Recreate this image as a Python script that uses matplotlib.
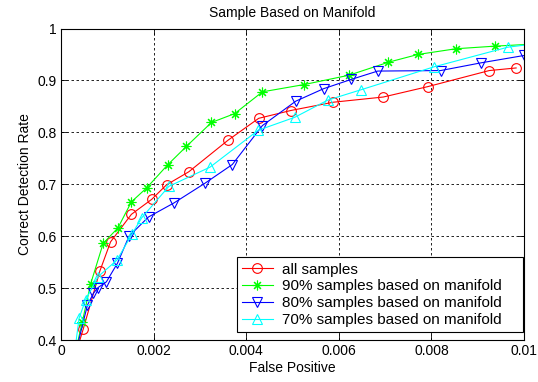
import matplotlib
matplotlib.use('Agg')
import matplotlib.pyplot as plt

## data
all_x = [0.00034, 0.00048, 0.00084, 0.00107, 0.00152, 0.00196, 0.00228, 0.00276, 0.00361,
         0.00427, 0.00496, 0.00588, 0.00696, 0.00792, 0.00925, 0.00983]
all_y = [0.38, 0.421, 0.533, 0.589, 0.642, 0.671, 0.699, 0.724, 0.785,
         0.827, 0.842, 0.858, 0.868, 0.888, 0.919, 0.924]

s90_x = [0.00032, 0.00046, 0.00064, 0.00091, 0.00123, 0.00152, 0.00185, 0.00231, 0.00271,
         0.00325, 0.00375, 0.00435, 0.00525, 0.00622, 0.00707, 0.00771, 0.00853, 0.00937, 0.0102]
s90_y = [0.38, 0.435, 0.508, 0.586, 0.616, 0.666, 0.693, 0.738, 0.773,
         0.819, 0.836, 0.878, 0.892, 0.91, 0.935, 0.95, 0.961, 0.966, 0.97]

s80_x = [0.00033, 0.00057, 0.00070, 0.00080, 0.00098, 0.00122, 0.00147, 0.00189, 0.00244,
         0.00311, 0.0037, 0.00435, 0.00507, 0.00567, 0.00627, 0.00684, 0.0082, 0.00908, 0.01]
s80_y = [0.38, 0.467, 0.49, 0.501, 0.512, 0.548, 0.6, 0.637, 0.664,
         0.702, 0.738, 0.813, 0.86, 0.884, 0.902, 0.918, 0.919, 0.934, 0.948]

s70_x = [0.00030, 0.00039, 0.00053, 0.0008, 0.00121, 0.00154, 0.00174, 0.00233, 0.00322,
         0.00426, 0.00505, 0.00576, 0.00648, 0.00805, 0.00965, 0.0102]
s70_y = [0.38, 0.442, 0.477, 0.522, 0.554, 0.605, 0.635, 0.696, 0.733,
         0.804, 0.829, 0.862, 0.882, 0.926, 0.964, 0.97]

labels = ['all samples', '90% samples based on manifold',
          '80% samples based on manifold', '70% samples based on manifold']

x_ticks = [0, 0.002, 0.004, 0.006, 0.008, 0.01]
x_tick_labels = ['0', '0.002', '0.004', '0.006', '0.008', '0.01']
y_ticks = [0.4, 0.5, 0.6, 0.7, 0.8, 0.9, 1.0]
y_tick_labels = ['0.4', '0.5', '0.6', '0.7', '0.8', '0.9', '1']


def main():
    plt.rcParams['font.family'] = ['Liberation Sans', 'DejaVu Sans']
    plt.rcParams['font.size'] = 10

    fig = plt.figure(figsize=(5.38, 3.82), dpi=100)
    ax = fig.add_axes([61 / 538, 1 - 340 / 382, 463 / 538, 311.5 / 382])

    # matlab style: open markers, asterisk for the 90% curve
    series = [(all_x, all_y, '#ff0000', 'o', 7),
              (s90_x, s90_y, '#00ff00', (8, 2, 0), 7),
              (s80_x, s80_y, '#0000ff', 'v', 7),
              (s70_x, s70_y, '#00ffff', '^', 7)]
    for (xs, ys, col, mk, ms), lab in zip(series, labels):
        ax.plot(xs, ys, color=col, marker=mk, markersize=ms,
                markerfacecolor='none', markeredgewidth=0.8,
                linewidth=0.8, label=lab)

    ax.set_xlim(0, 0.01)
    ax.set_ylim(0.4, 1.0)
    ax.set_xticks(x_ticks)
    ax.set_xticklabels(x_tick_labels)
    ax.set_yticks(y_ticks)
    ax.set_yticklabels(y_tick_labels)
    ax.tick_params(direction='in', length=4, width=0.6, top=True, right=True, pad=3)
    ax.grid(True, color='black', linestyle=(0, (3, 3)), linewidth=0.6)
    for sp in ax.spines.values():
        sp.set_linewidth(0.8)

    ax.set_title('Sample Based on Manifold', fontsize=10, pad=8)
    ax.set_xlabel('False Positive', labelpad=2)
    ax.set_ylabel('Correct Detection Rate', labelpad=4)

    # legend box stretched to the width it has in the reference
    leg = ax.legend(loc='lower left', bbox_to_anchor=(0.3795, 0.025, 0.6177, 0.248),
                    mode='expand', borderaxespad=0,
                    fancybox=False, framealpha=1, edgecolor='black', handlelength=2,
                    labelspacing=0.18, borderpad=0.35, handletextpad=0.6,
                    prop={'size': 11})
    leg.get_frame().set_linewidth(0.8)

    fig.savefig('out.png', dpi=100)


if __name__ == "__main__":
    main()
